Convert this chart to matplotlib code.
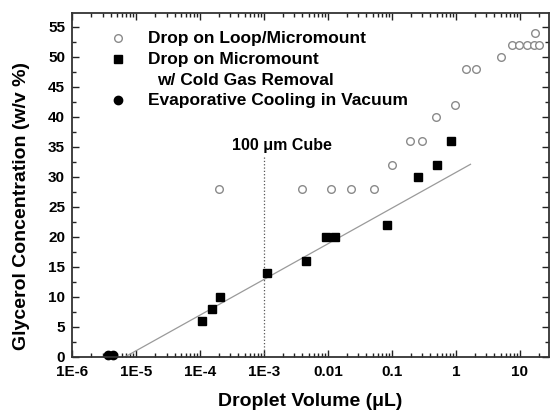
import numpy as np
import matplotlib
matplotlib.use("Agg")
import matplotlib.pyplot as plt
from matplotlib.ticker import MultipleLocator, FixedLocator, FixedFormatter

plt.rcParams['font.family'] = ['Liberation Sans', 'DejaVu Sans']
plt.rcParams['font.weight'] = 'bold'

# Drop on Loop/Micromount (open circles)
loop_vol = [2.0e-4, 3.9e-3, 0.011, 0.023, 0.053, 0.10, 0.19, 0.30, 0.49, 0.98,
            1.43, 2.05, 5.05, 7.4, 9.8, 13.1, 16.6, 20.2, 17.3]
loop_conc = [28, 28, 28, 28, 28, 32, 36, 36, 40, 42,
             48, 48, 50, 52, 52, 52, 52, 52, 54]

# Drop on Micromount w/ Cold Gas Removal (filled squares)
gas_vol = [1.07e-4, 1.54e-4, 2.08e-4, 1.1e-3, 4.6e-3, 9.3e-3, 0.013, 0.084, 0.254, 0.51, 0.85]
gas_conc = [6, 8, 10, 14, 16, 20, 20, 22, 30, 32, 36]

# Evaporative Cooling in Vacuum (filled circles)
vac_vol = [3.7e-6, 4.3e-6]
vac_conc = [0.3, 0.3]

# fitted line end points
fit_vol = [6.7e-6, 1.69]
fit_conc = [0, 32.1]

cube_vol = 1e-3
cube_top = 33.7

xtick_vals = [1e-6, 1e-5, 1e-4, 1e-3, 1e-2, 1e-1, 1, 10]
xtick_labels = ['1E-6', '1E-5', '1E-4', '1E-3', '0.01', '0.1', '1', '10']

fig = plt.figure(figsize=(5.51, 4.12), dpi=100)
ax = fig.add_axes([72/551, 1 - 357/412, 477/551, 344/412])

ax.plot(fit_vol, fit_conc, color='#9a9a9a', lw=0.9)
ax.plot([cube_vol, cube_vol], [0, cube_top], color='#555555', lw=0.9, ls=':')

ax.plot(loop_vol, loop_conc, 'o', mfc='white', mec='#8a8a8a', ms=5.5, mew=1.0, ls='none')
ax.plot(gas_vol, gas_conc, 's', color='black', ms=5.5, ls='none')
ax.plot(vac_vol, vac_conc, 'o', color='black', ms=6, ls='none', clip_on=False)

ax.set_xscale('log')
ax.set_xlim(1e-6, 28.5)
ax.set_ylim(0, 57.3)

ax.xaxis.set_major_locator(FixedLocator(xtick_vals))
ax.xaxis.set_major_formatter(FixedFormatter(xtick_labels))
ax.yaxis.set_major_locator(MultipleLocator(5))
ax.yaxis.set_minor_locator(MultipleLocator(2.5))

ax.tick_params(which='both', direction='in', top=True, right=True, width=1.0, color='#222222')
ax.tick_params(which='major', length=5, labelsize=11)
ax.tick_params(axis='x', which='major', pad=6)
ax.tick_params(axis='y', which='major', pad=5)
ax.tick_params(which='minor', length=3)
for lab in ax.get_xticklabels() + ax.get_yticklabels():
    lab.set_fontweight('bold')
for s in ax.spines.values():
    s.set_linewidth(1.3)
    s.set_color('#333333')

ax.set_xlabel('Droplet Volume (μL)', fontsize=14, fontweight='bold')
ax.set_ylabel('Glycerol Concentration (w/v %)', fontsize=14, fontweight='bold')
ax.xaxis.set_label_coords(0.5, -0.108)
ax.yaxis.set_label_coords(-0.115, 0.44)
ax.yaxis.label.set_va('center')
ax.xaxis.label.set_va('center')
ax.xaxis.set_label_coords(0.5, -0.13)
ax.yaxis.set_label_coords(-0.105, 0.44)

ax.text(1.9e-3, 35.2, '100 μm Cube', ha='center', va='center', fontsize=11.5, fontweight='bold')

# legend drawn by hand so the two-line entry lines up like the original
mx, tx = 0.096, 0.159
rows = [0.927, 0.866, 0.805, 0.747]
ax.plot([mx], [rows[0]], 'o', transform=ax.transAxes, mfc='white', mec='#8a8a8a', ms=5.5, mew=1.0)
ax.plot([mx], [rows[1]], 's', transform=ax.transAxes, color='black', ms=5.5)
ax.plot([mx], [rows[3]], 'o', transform=ax.transAxes, color='black', ms=6)
ax.text(tx, rows[0], 'Drop on Loop/Micromount', transform=ax.transAxes, va='center', fontsize=12.5, fontweight='bold')
ax.text(tx, rows[1], 'Drop on Micromount', transform=ax.transAxes, va='center', fontsize=12.5, fontweight='bold')
ax.text(tx + 0.02, rows[2], 'w/ Cold Gas Removal', transform=ax.transAxes, va='center', fontsize=12.5, fontweight='bold')
ax.text(tx, rows[3], 'Evaporative Cooling in Vacuum', transform=ax.transAxes, va='center', fontsize=12.5, fontweight='bold')

fig.savefig('out.png', dpi=100)
